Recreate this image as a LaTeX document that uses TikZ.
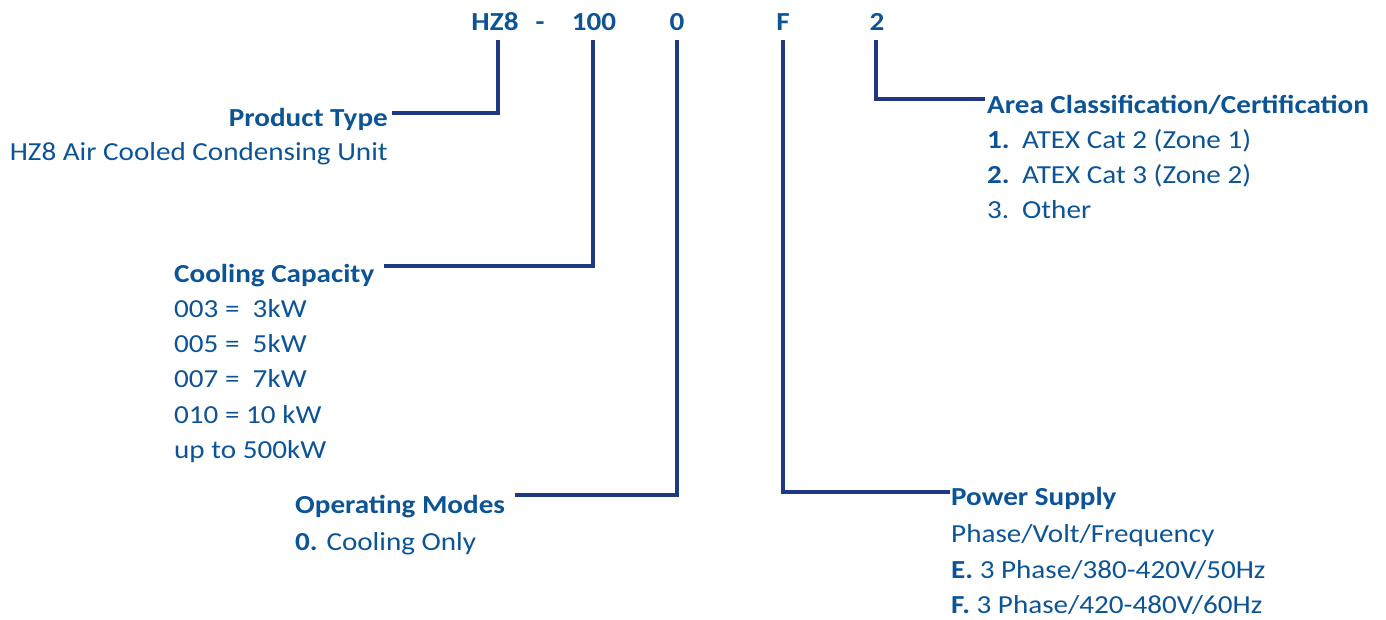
\documentclass[tikz,border=0pt]{standalone}
\usepackage{fontspec}
\setmainfont[FakeStretch=1.12]{Carlito}
\usetikzlibrary{calc}
\definecolor{txt}{RGB}{12,84,150}
\definecolor{ln}{RGB}{31,56,130}
\begin{document}
\begin{tikzpicture}[x=1pt,y=-1pt,
  lbl/.style={inner sep=0pt, text=txt, font=\fontsize{26}{32}\selectfont},
  head/.style={lbl, font=\fontsize{26}{32}\selectfont\bfseries},
  code/.style={head, inner xsep=0pt, inner ysep=10pt, anchor=base},
  conn/.style={draw=ln, line width=4pt}]
\useasboundingbox (0,0) rectangle (1386,619);
% code letters
\node[code] (hz8) at (495,30) {HZ8};
\node[code] (dash) at (540,30) {-};
\node[code] (c100) at (594,30) {100};
\node[code] (c0) at (677,30) {0};
\node[code] (cF) at (783,30) {F};
\node[code] (c2) at (877,30) {2};
% product type
\node[head, anchor=base east] (ptype) at (388,126) {Product Type};
\node[lbl, anchor=base east] (ptype1) at (388,160) {HZ8 Air Cooled Condensing Unit};
% cooling capacity
\node[head, anchor=base west] (cool) at (174,282) {Cooling Capacity};
\node[lbl, anchor=base west] (cool1) at (174,317) {003 = \ 3kW};
\node[lbl, anchor=base west] (cool2) at (174,352) {005 = \ 5kW};
\node[lbl, anchor=base west] (cool3) at (174,387) {007 = \ 7kW};
\node[lbl, anchor=base west] (cool4) at (174,423) {010 = 10 kW};
\node[lbl, anchor=base west] (cool5) at (174,458) {up to 500kW};
% operating modes
\node[head, anchor=base west] (opm) at (295,513) {Operating Modes};
\node[lbl, anchor=base west] (opm1) at (295,550) {\textbf{0.} Cooling Only};
% power supply
\node[head, anchor=base west] (pow) at (951,505) {Power Supply};
\node[lbl, anchor=base west] (pow1) at (951,542) {Phase/Volt/Frequency};
\node[lbl, anchor=base west] (pow2) at (951,578) {\textbf{E.} 3 Phase/380-420V/50Hz};
\node[lbl, anchor=base west] (pow3) at (951,613) {\textbf{F.} 3 Phase/420-480V/60Hz};
% area classification
\node[head, anchor=base west] (area) at (987,113) {Area Classification/Certification};
\node[lbl, anchor=base west] (area1) at (987,148) {\makebox[35pt][l]{\textbf{1.}}ATEX Cat 2 (Zone 1)};
\node[lbl, anchor=base west] (area2) at (987,183) {\makebox[35pt][l]{\textbf{2.}}ATEX Cat 3 (Zone 2)};
\node[lbl, anchor=base west] (area3) at (987,218) {\makebox[35pt][l]{3.}Other};
% connectors
\draw[conn] ([xshift=3pt]hz8.south) |- ($(ptype.base east)+(4,-13)$);
\draw[conn] ([xshift=-1pt]c100.south) |- ($(cool.base east)+(10,-16)$);
\draw[conn] (c0.south) |- ($(opm.base east)+(10,-18)$);
\draw[conn] (cF.south) |- ($(pow.base west)+(-1,-13)$);
\draw[conn] ([xshift=-1pt]c2.south) |- ($(area.base west)+(-2,-14)$);
\end{tikzpicture}
\end{document}
